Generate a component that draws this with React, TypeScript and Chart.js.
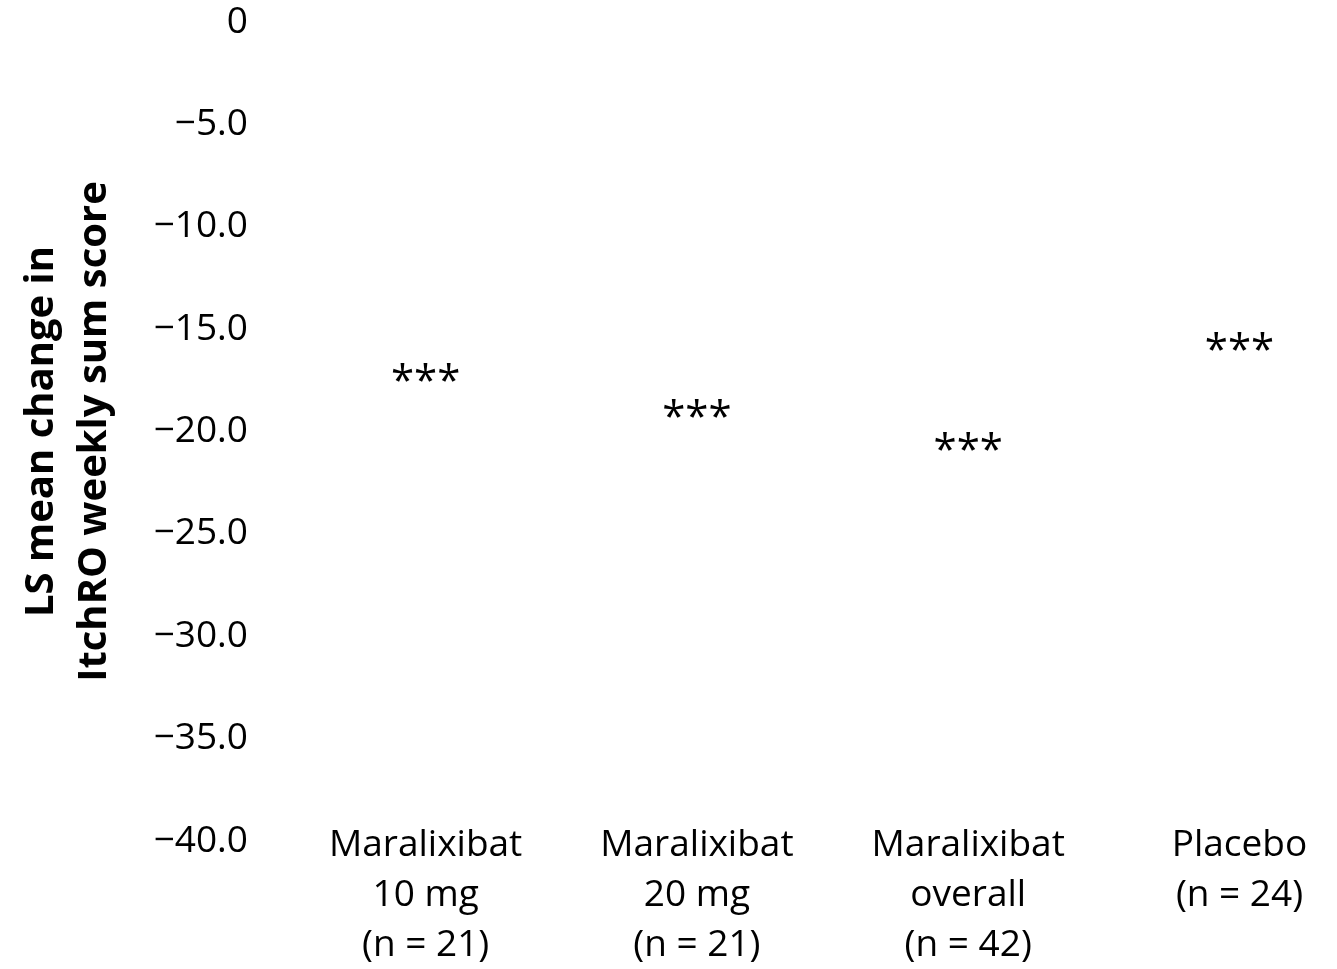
import React, { useEffect, useRef } from "react";
import { Chart, registerables } from "chart.js";

Chart.register(...registerables);

const categoryLabels: string[][] = [
  ["Maralixibat", "10 mg", "(n = 21)"],
  ["Maralixibat", "20 mg", "(n = 21)"],
  ["Maralixibat", "overall", "(n = 42)"],
  ["Placebo", "(n = 24)"],
];
const lsMeanChange: number[] = [-17.1, -18.9, -20.5, -15.6];
const significance: string[] = ["***", "***", "***", "***"];
const yTitle: string[] = ["LS mean change in", "ItchRO weekly sum score"];
const yMin = -40;
const yMax = 0;
const yStep = 5;

const FONT = "'Open Sans', 'DejaVu Sans', sans-serif";
const X_LABEL_LIFT = 30;

const starsPlugin = {
  id: "starsPlugin",
  afterLayout(chart: any) {
    // let the category labels start slightly above the plot bottom, as in the reference
    const xs = chart.scales.x;
    if (xs) xs.top = xs.top - X_LABEL_LIFT;
  },
  afterDatasetsDraw(chart: any) {
    const ctx = chart.ctx;
    const meta = chart.getDatasetMeta(0);
    ctx.save();
    ctx.font = `42px ${FONT}`;
    ctx.fillStyle = "#000";
    ctx.textAlign = "center";
    ctx.textBaseline = "alphabetic";
    meta.data.forEach((el: any, i: number) => {
      const txt = significance[i];
      const m = ctx.measureText(txt);
      const off = (m.actualBoundingBoxAscent - m.actualBoundingBoxDescent) / 2;
      ctx.fillText(txt, el.x, el.y + off);
    });
    ctx.restore();
  },
};

export default function App() {
  const ref = useRef<HTMLCanvasElement | null>(null);
  useEffect(() => {
    document.body.style.margin = "0";
    if (!ref.current) return;
    Chart.defaults.font.family = FONT;
    Chart.defaults.color = "#000";
    const chart = new Chart(ref.current, {
      type: "scatter",
      data: {
        datasets: [
          {
            data: lsMeanChange.map((v, i) => ({ x: i, y: v })),
            pointRadius: 0,
            pointHoverRadius: 0,
            showLine: false,
          },
        ],
      },
      options: {
        animation: false,
        responsive: false,
        events: [],
        layout: { padding: { top: 22, right: 8, bottom: 0, left: 0 } },
        plugins: { legend: { display: false }, tooltip: { enabled: false } },
        scales: {
          x: {
            type: "linear",
            min: -0.5,
            max: 3.33,
            border: { display: false },
            grid: { display: false, drawTicks: false },
            afterBuildTicks: (scale: any) => {
              scale.ticks = categoryLabels.map((_, i) => ({ value: i }));
            },
            ticks: {
              autoSkip: false,
              maxRotation: 0,
              minRotation: 0,
              padding: -21 + X_LABEL_LIFT,
              color: "#000",
              font: { size: 37, lineHeight: 50 / 37 },
              callback: (v: any) => categoryLabels[v] as any,
            },
            afterFit: (scale: any) => {
              scale.height = 128;
              scale.paddingLeft = 0;
              scale.paddingRight = 0;
            },
          },
          y: {
            min: yMin,
            max: yMax,
            border: { display: false },
            grid: { display: false, drawTicks: false },
            ticks: {
              stepSize: yStep,
              padding: 42,
              color: "#000",
              font: { size: 37 },
              callback: (v: any) =>
                v === 0 ? "0" : "\u2212" + Math.abs(Number(v)).toFixed(1),
            },
            title: {
              display: true,
              text: yTitle,
              color: "#000",
              font: { size: 40, weight: "bold", lineHeight: 53 / 40 },
              padding: { top: 15, bottom: 0 },
            },
            afterFit: (scale: any) => {
              scale.width = 290;
              scale.paddingTop = 0;
              scale.paddingBottom = 0;
            },
          },
        },
      },
      plugins: [starsPlugin],
    });
    return () => chart.destroy();
  }, []);
  return (
    <div style={{ width: 1337, height: 969 }}>
      <canvas ref={ref} width={1337} height={969} style={{ display: "block" }} />
    </div>
  );
}
